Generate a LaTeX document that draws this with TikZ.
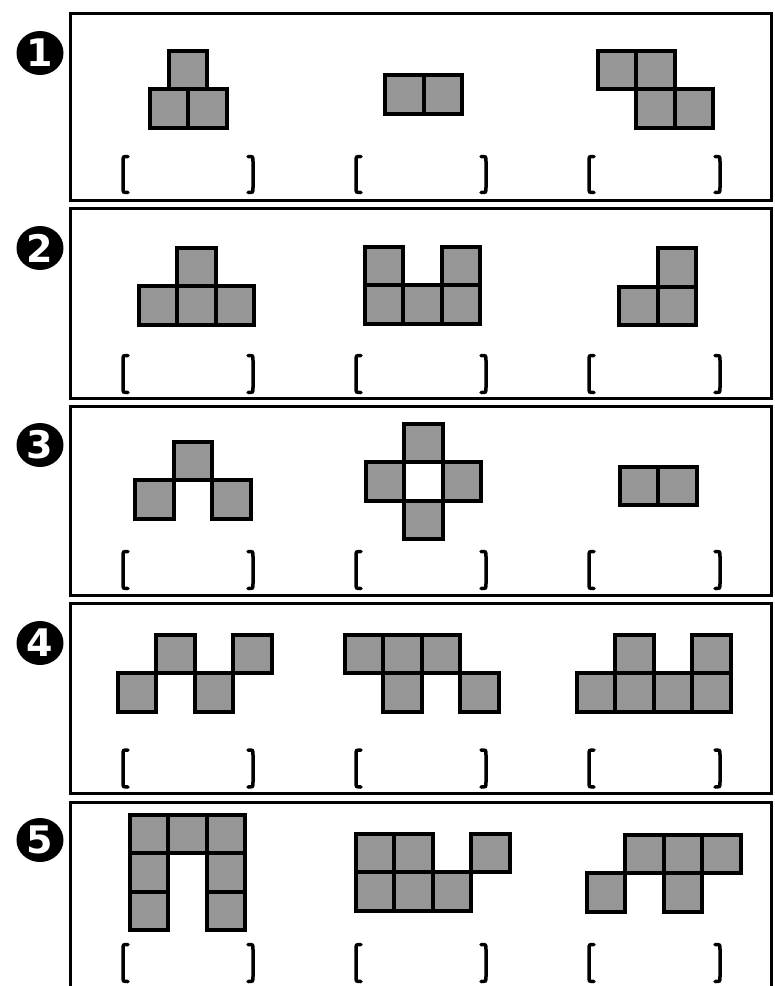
\documentclass[tikz,border=0pt]{standalone}
\usepackage{fontspec}
\usepackage{tikz}
\usetikzlibrary{shapes.geometric}
\newfontfamily\numfont{DejaVu Sans}[BoldFont=* Bold]
\definecolor{grisCase}{RGB}{150,150,150}

\newcommand{\crochetG}[3]{\draw[crochet] (#1+5,#2) .. controls (#1,#2) .. (#1,#2+5) -- (#1,#3-5) .. controls (#1,#3) .. (#1+5,#3);}
\newcommand{\crochetD}[3]{\draw[crochet] (#1-5,#2) .. controls (#1,#2) .. (#1,#2+5) -- (#1,#3-5) .. controls (#1,#3) .. (#1-5,#3);}
\newcommand{\reponses}[2]{%
  \crochetG{123}{#1}{#2}\crochetD{253}{#1}{#2}%
  \crochetG{356}{#1}{#2}\crochetD{486}{#1}{#2}%
  \crochetG{589}{#1}{#2}\crochetD{720}{#1}{#2}}

\begin{document}
\begin{tikzpicture}[x=1pt, y=-1pt,
  cadre/.style={draw=black, line width=3pt},
  case/.style={fill=grisCase, draw=black, line width=4pt},
  crochet/.style={draw=black, line width=3.5pt, line cap=round},
  numero/.style={ellipse, fill=black, text=white, minimum width=47pt, minimum height=44pt,
                 inner sep=0pt, font=\numfont\bfseries\fontsize{38}{38}\selectfont}]

\useasboundingbox (0,0) rectangle (775,986);

\draw[cadre] (70,13) rectangle (771,200);
\draw[cadre] (70,208) rectangle (771,398);
\draw[cadre] (70,406) rectangle (771,595);
\draw[cadre] (70,603) rectangle (771,793);
\draw[cadre] (70,995) -- (70,802) -- (771,802) -- (771,995);

\node[numero] (num1) at (40,53) {1};
\node[numero] (num2) at (40,248) {2};
\node[numero] (num3) at (40,445) {3};
\node[numero] (num4) at (40,643) {4};
\node[numero] (num5) at (40,840) {5};

\draw[case] (168.75,50.5) rectangle ++(38.5,38.5);
\draw[case] (149.5,89) rectangle ++(38.5,38.5);
\draw[case] (188,89) rectangle ++(38.5,38.5);

\draw[case] (385,75) rectangle ++(38.5,38.5);
\draw[case] (423.5,75) rectangle ++(38.5,38.5);

\draw[case] (597.5,50.5) rectangle ++(38.5,38.5);
\draw[case] (636,50.5) rectangle ++(38.5,38.5);
\draw[case] (636,89) rectangle ++(38.5,38.5);
\draw[case] (674.5,89) rectangle ++(38.5,38.5);

\draw[case] (177,247.5) rectangle ++(38.5,38.5);
\draw[case] (138.5,286) rectangle ++(38.5,38.5);
\draw[case] (177,286) rectangle ++(38.5,38.5);
\draw[case] (215.5,286) rectangle ++(38.5,38.5);

\draw[case] (364.5,246.5) rectangle ++(38.5,38.5);
\draw[case] (441.5,246.5) rectangle ++(38.5,38.5);
\draw[case] (364.5,285) rectangle ++(38.5,38.5);
\draw[case] (403,285) rectangle ++(38.5,38.5);
\draw[case] (441.5,285) rectangle ++(38.5,38.5);

\draw[case] (657.5,248) rectangle ++(38.5,38.5);
\draw[case] (619,286.5) rectangle ++(38.5,38.5);
\draw[case] (657.5,286.5) rectangle ++(38.5,38.5);

\draw[case] (173.5,441.5) rectangle ++(38.5,38.5);
\draw[case] (135,480) rectangle ++(38.5,38.5);
\draw[case] (212,480) rectangle ++(38.5,38.5);

\draw[case] (404,423.5) rectangle ++(38.5,38.5);
\draw[case] (365.5,462) rectangle ++(38.5,38.5);
\draw[case] (442.5,462) rectangle ++(38.5,38.5);
\draw[case] (404,500.5) rectangle ++(38.5,38.5);

\draw[case] (619.5,466.5) rectangle ++(38.5,38.5);
\draw[case] (658,466.5) rectangle ++(38.5,38.5);

\draw[case] (156,634.5) rectangle ++(38.5,38.5);
\draw[case] (233,634.5) rectangle ++(38.5,38.5);
\draw[case] (117.5,673) rectangle ++(38.5,38.5);
\draw[case] (194.5,673) rectangle ++(38.5,38.5);

\draw[case] (344.5,634.5) rectangle ++(38.5,38.5);
\draw[case] (383,634.5) rectangle ++(38.5,38.5);
\draw[case] (421.5,634.5) rectangle ++(38.5,38.5);
\draw[case] (383,673) rectangle ++(38.5,38.5);
\draw[case] (460,673) rectangle ++(38.5,38.5);

\draw[case] (615,634.5) rectangle ++(38.5,38.5);
\draw[case] (692,634.5) rectangle ++(38.5,38.5);
\draw[case] (576.5,673) rectangle ++(38.5,38.5);
\draw[case] (615,673) rectangle ++(38.5,38.5);
\draw[case] (653.5,673) rectangle ++(38.5,38.5);
\draw[case] (692,673) rectangle ++(38.5,38.5);

\draw[case] (129.5,814.5) rectangle ++(38.5,38.5);
\draw[case] (168,814.5) rectangle ++(38.5,38.5);
\draw[case] (206.5,814.5) rectangle ++(38.5,38.5);
\draw[case] (129.5,853) rectangle ++(38.5,38.5);
\draw[case] (206.5,853) rectangle ++(38.5,38.5);
\draw[case] (129.5,891.5) rectangle ++(38.5,38.5);
\draw[case] (206.5,891.5) rectangle ++(38.5,38.5);

\draw[case] (355.5,833.5) rectangle ++(38.5,38.5);
\draw[case] (394,833.5) rectangle ++(38.5,38.5);
\draw[case] (471,833.5) rectangle ++(38.5,38.5);
\draw[case] (355.5,872) rectangle ++(38.5,38.5);
\draw[case] (394,872) rectangle ++(38.5,38.5);
\draw[case] (432.5,872) rectangle ++(38.5,38.5);

\draw[case] (625,834.5) rectangle ++(38.5,38.5);
\draw[case] (663.5,834.5) rectangle ++(38.5,38.5);
\draw[case] (702,834.5) rectangle ++(38.5,38.5);
\draw[case] (586.5,873) rectangle ++(38.5,38.5);
\draw[case] (663.5,873) rectangle ++(38.5,38.5);

\reponses{156.5}{192.5}
\reponses{355.5}{392.5}
\reponses{551.5}{588.5}
\reponses{750}{787}
\reponses{944.5}{981.5}

\end{tikzpicture}
\end{document}
